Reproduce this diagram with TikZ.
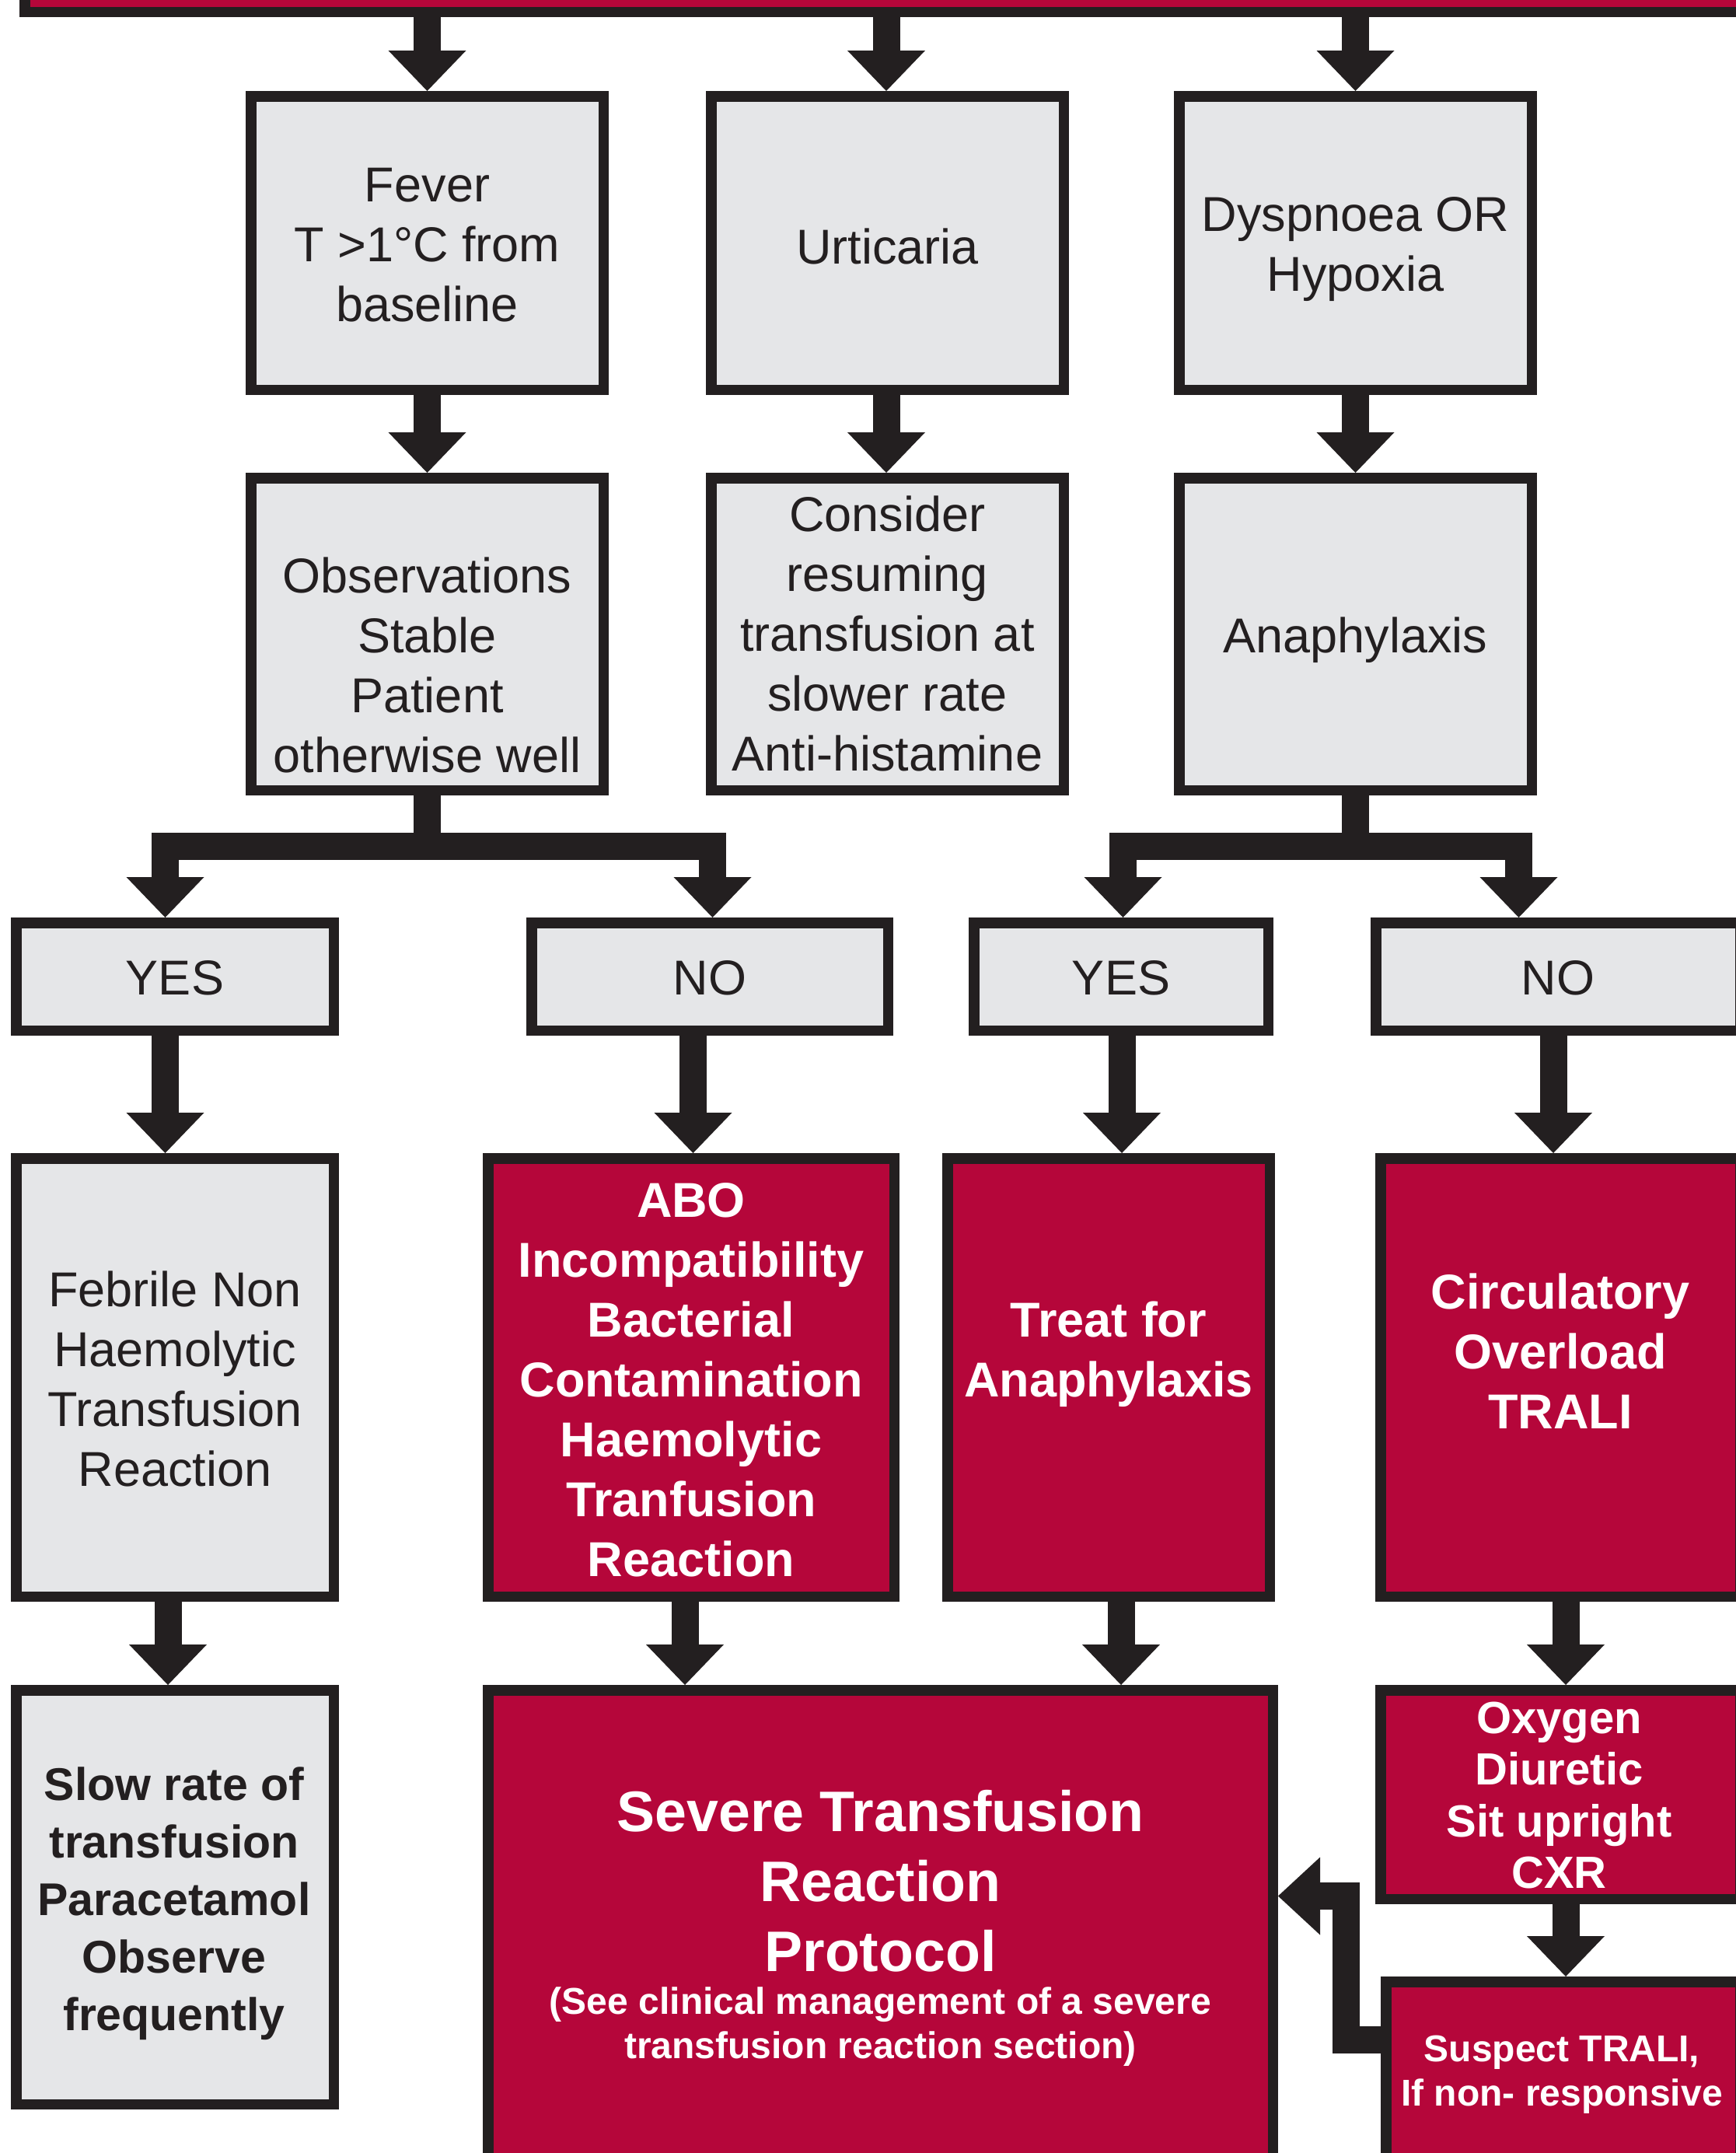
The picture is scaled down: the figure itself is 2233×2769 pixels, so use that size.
\documentclass[tikz,border=0pt]{standalone}
\usepackage{fontspec}
\setmainfont{Liberation Sans}
\definecolor{ink}{RGB}{35,31,32}
\definecolor{boxred}{RGB}{181,6,58}
\definecolor{boxgray}{RGB}{229,230,232}
\newcommand\regfont{\fontsize{63}{77}\selectfont}
\newcommand\boldfont{\fontsize{63}{77}\selectfont\bfseries}
% style, name, x1, y1, x2, y2 (outer extents, px)
\newcommand\mkbox[6]{%
  \pgfmathsetmacro\mkW{#5-#3-13.5}\pgfmathsetmacro\mkH{#6-#4-13.5}%
  \pgfmathsetmacro\mkX{(#3+#5)/2}\pgfmathsetmacro\mkY{(#4+#6)/2}%
  \node[#1, minimum width=\mkW pt, minimum height=\mkH pt] (#2) at (\mkX,\mkY) {};}
% source, source xshift, target, target xshift
\newcommand\dnarr[4]{%
  \draw[shaft] ([xshift=#2pt]#1.south) -- ([xshift=#4pt,yshift=52pt]#3.north);
  \fill[head] ([xshift=#4pt-50pt,yshift=52pt]#3.north) -- ([xshift=#4pt+50pt,yshift=52pt]#3.north) -- ([xshift=#4pt]#3.north) -- cycle;}
\begin{document}
\begin{tikzpicture}[x=1pt,y=-1pt,
  box/.style={rectangle, draw=ink, line width=13.5pt, inner sep=0pt, outer sep=6.75pt},
  graybox/.style={box, fill=boxgray},
  redbox/.style={box, fill=boxred},
  shaft/.style={draw=ink, line width=35pt, line cap=butt, line join=miter},
  head/.style={fill=ink},
  txt/.style={inner sep=0pt, align=center, text=ink, font=\regfont},
  btxt/.style={inner sep=0pt, align=center, text=white, font=\boldfont},
]
\useasboundingbox (0,0) rectangle (2233,2769);
\clip (0,0) rectangle (2233,2769);
\fill[white] (0,0) rectangle (2233,2769);

% boxes
\mkbox{redbox}{banner}{25}{-80}{2260}{22}
\mkbox{graybox}{fever}{316}{117}{783}{508}
\mkbox{graybox}{urt}{908}{117}{1375}{508}
\mkbox{graybox}{dys}{1510}{117}{1977}{508}
\mkbox{graybox}{obs}{316}{608}{783}{1023}
\mkbox{graybox}{con}{908}{608}{1375}{1023}
\mkbox{graybox}{ana}{1510}{608}{1977}{1023}
\mkbox{graybox}{yesL}{14}{1180}{436}{1332}
\mkbox{graybox}{noL}{677}{1180}{1149}{1332}
\mkbox{graybox}{yesR}{1246}{1180}{1638}{1332}
\mkbox{graybox}{noR}{1763}{1180}{2245}{1332}
\mkbox{graybox}{feb}{14}{1483}{436}{2060}
\mkbox{redbox}{abo}{621}{1483}{1157}{2060}
\mkbox{redbox}{treat}{1212}{1483}{1640}{2060}
\mkbox{redbox}{circ}{1769}{1483}{2245}{2060}
\mkbox{graybox}{slow}{14}{2167}{436}{2713}
\mkbox{redbox}{sev}{621}{2167}{1644}{2800}
\mkbox{redbox}{oxy}{1769}{2167}{2245}{2449}
\mkbox{redbox}{sus}{1776}{2542}{2245}{2800}

% texts
\node[txt] (fever-t) at (549.5,320.6) {\strut Fever\\T >1°C from\\baseline\strut};
\node[txt] (urt-t) at (1141.5,323.6) {\strut Urticaria\strut};
\node[txt] (dys-t) at (1743.5,320.1) {\strut Dyspnoea OR\\Hypoxia\strut};
\node[txt] (obs-t) at (549.5,863) {\strut Observations\\Stable\\Patient\\otherwise well\strut};
\node[txt] (con-t) at (1141.5,821.6) {\strut Consider\\resuming\\transfusion at\\slower rate\\Anti-histamine\strut};
\node[txt] (ana-t) at (1743.5,823.6) {\strut Anaphylaxis\strut};
\node[txt] (yesL-t) at (225,1263.6) {\strut YES\strut};
\node[txt] (noL-t) at (913,1263.6) {\strut NO\strut};
\node[txt] (yesR-t) at (1442,1263.6) {\strut YES\strut};
\node[txt] (noR-t) at (2004,1263.6) {\strut NO\strut};
\node[txt] (feb-t) at (225,1781) {\strut Febrile Non\\Haemolytic\\Transfusion\\Reaction\strut};
\node[btxt] (abo-t) at (889,1780.6) {\strut ABO\\Incompatibility\\Bacterial\\Contamination\\Haemolytic\\Tranfusion\\Reaction\strut};
\node[btxt] (treat-t) at (1426,1743) {\strut Treat for\\Anaphylaxis\strut};
\node[btxt] (circ-t) at (2007,1744.6) {\strut Circulatory\\Overload\\TRALI\strut};
\node[btxt, text=ink, font=\fontsize{59}{74}\selectfont\bfseries] (slow-t) at (224,2449) {\strut Slow rate of\\transfusion\\Paracetamol\\Observe\\frequently\strut};
\node[btxt, font=\fontsize{73.5}{90}\selectfont\bfseries] (sev-t) at (1132.5,2427) {\strut Severe Transfusion\\Reaction\\Protocol\strut};
\node[btxt, font=\fontsize{48}{57}\selectfont\bfseries] (sev-n) at (1132.5,2608) {\strut (See clinical management of a severe\\transfusion reaction section)\strut};
\node[btxt, font=\fontsize{58}{66.5}\selectfont\bfseries] (oxy-t) at (2005.5,2315.5) {\strut Oxygen\\Diuretic\\Sit upright\\CXR\strut};
\node[btxt, font=\fontsize{48}{57}\selectfont\bfseries] (sus-t) at (2009,2669) {\strut Suspect TRALI,\\If non- responsive\strut};

% connectors
\dnarr{banner}{-593}{fever}{0}
\dnarr{banner}{-2.5}{urt}{-1.5}
\dnarr{banner}{601}{dys}{0}
\dnarr{fever}{0}{obs}{0}
\dnarr{urt}{-1.5}{con}{-1.5}
\dnarr{dys}{0}{ana}{0}

\coordinate (jL) at (549.5,1088);
\draw[shaft] (obs.south) -- (jL) -| ([xshift=-12.5pt,yshift=52pt]yesL.north);
\draw[shaft] (jL) -| ([xshift=3.5pt,yshift=52pt]noL.north);
\fill[head] ([xshift=-62.5pt,yshift=52pt]yesL.north) -- ([xshift=37.5pt,yshift=52pt]yesL.north) -- ([xshift=-12.5pt]yesL.north) -- cycle;
\fill[head] ([xshift=-46.5pt,yshift=52pt]noL.north) -- ([xshift=53.5pt,yshift=52pt]noL.north) -- ([xshift=3.5pt]noL.north) -- cycle;

\coordinate (jR) at (1743.5,1088);
\draw[shaft] (ana.south) -- (jR) -| ([xshift=2.5pt,yshift=52pt]yesR.north);
\draw[shaft] (jR) -| ([xshift=-50.5pt,yshift=52pt]noR.north);
\fill[head] ([xshift=-47.5pt,yshift=52pt]yesR.north) -- ([xshift=52.5pt,yshift=52pt]yesR.north) -- ([xshift=2.5pt]yesR.north) -- cycle;
\fill[head] ([xshift=-100.5pt,yshift=52pt]noR.north) -- ([xshift=-0.5pt,yshift=52pt]noR.north) -- ([xshift=-50.5pt]noR.north) -- cycle;

\dnarr{yesL}{-12.5}{feb}{-12.5}
\dnarr{noL}{-21.5}{abo}{2.5}
\dnarr{yesR}{1}{treat}{17}
\dnarr{noR}{-6}{circ}{-9}
\dnarr{feb}{-9}{slow}{-9}
\dnarr{abo}{-8}{sev}{-251.5}
\dnarr{treat}{16}{sev}{309.5}
\dnarr{circ}{7}{oxy}{7}
\dnarr{oxy}{7}{sus}{3.5}

\coordinate (fb1) at (1731.5,2623.5);
\coordinate (fb2) at (1731.5,2438.5);
\draw[shaft] ([yshift=47.5pt]sus.west) -- (fb1) -- (fb2) -- ([xshift=54pt,yshift=45pt]sev.east);
\fill[head] ([xshift=54pt,yshift=95pt]sev.east) -- ([xshift=54pt,yshift=-5pt]sev.east) -- ([yshift=45pt]sev.east) -- cycle;
\end{tikzpicture}
\end{document}
